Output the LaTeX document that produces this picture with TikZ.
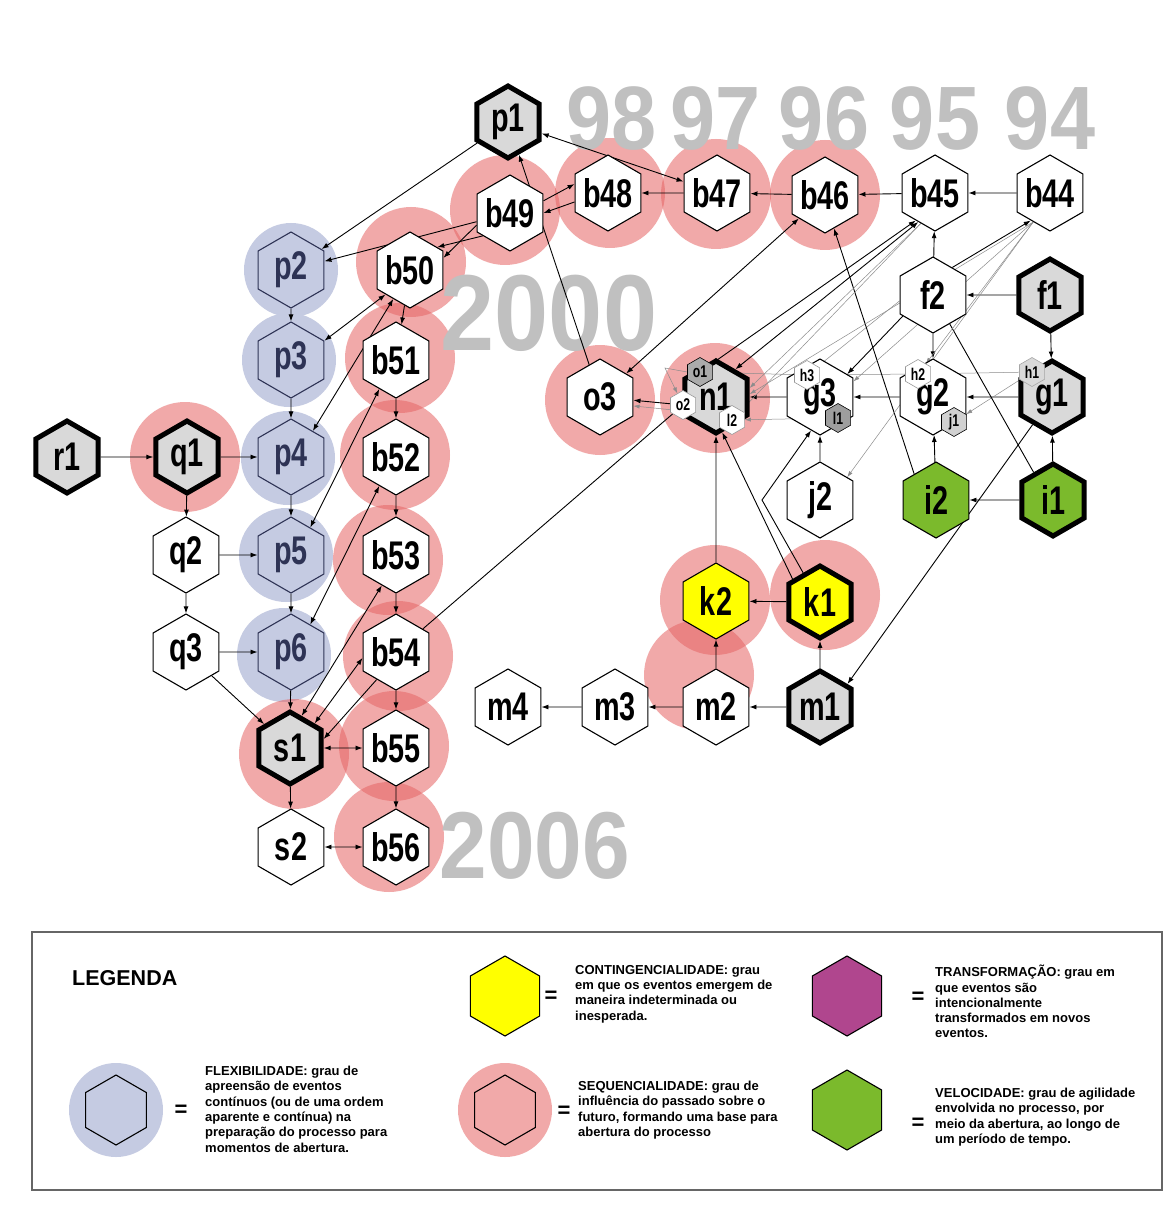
\documentclass[tikz,border=0pt]{standalone}
\usepackage{fontspec}
\setmainfont{Liberation Sans}
\newfontfamily\lblfont[FakeStretch=0.72]{Liberation Sans}
\newfontfamily\yearfont[FakeStretch=0.9]{Liberation Sans}
\usetikzlibrary{shapes.geometric, arrows.meta, calc}
\definecolor{flexblue}{HTML}{C5CBE2}
\definecolor{flexink}{HTML}{2E3355}
\definecolor{seqpink}{HTML}{E66464}
\definecolor{contyellow}{HTML}{FFFF00}
\definecolor{velgreen}{HTML}{7BBA2C}
\definecolor{transpurple}{HTML}{B0468E}
\definecolor{yeargray}{HTML}{C0C0C0}
\definecolor{evgray}{HTML}{D9D9D9}
\pgfdeclarelayer{bg}
\pgfdeclarelayer{edges}
\pgfsetlayers{bg,edges,main}
\tikzset{
  ev/.style={regular polygon, regular polygon sides=6, shape border rotate=30,
             minimum size=76pt, inner sep=-8pt, draw, line width=1.1pt, fill=white,
             font=\lblfont\bfseries\fontsize{40}{40}\selectfont},
  key/.style={ev, line width=5pt, minimum size=72pt, fill=evgray},
  flex/.style={ev, fill=none, draw=flexink, text=flexink},
  small/.style={ev, minimum size=29pt, inner sep=-3pt, line width=0.6pt,
                font=\lblfont\bfseries\fontsize{17}{17}\selectfont},
  link/.style={-{Latex[length=7pt,width=5pt]}, line width=0.9pt},
  both/.style={{Latex[length=7pt,width=5pt]}-{Latex[length=7pt,width=5pt]}, line width=0.9pt},
  plain/.style={line width=0.9pt},
  faint/.style={-{Latex[length=6pt,width=4pt]}, line width=0.5pt, black!45},
  seqcirc/.style={fill=seqpink, fill opacity=0.55},
  flexcirc/.style={fill=flexblue},
  year/.style={yeargray, anchor=base, inner sep=0,
               font=\yearfont\bfseries\fontsize{90}{90}\selectfont},
  legframe/.style={draw=black!60, line width=1.6pt},
  legtext/.style={anchor=north west, inner sep=0, align=left,
                  font=\bfseries\fontsize{13}{15.3}\selectfont},
  legeq/.style={inner sep=0, font=\bfseries\fontsize{22}{22}\selectfont},
  leghex/.style={regular polygon, regular polygon sides=6, shape border rotate=30,
                 minimum size=80pt, inner sep=0, draw, line width=1.1pt},
}
\begin{document}
\begin{tikzpicture}[x=1pt, y=-1pt]
  \useasboundingbox (0,0) rectangle (1170,1214);

  % Background circles and years
  \begin{pgfonlayer}{bg}
    \fill[white] (0,0) rectangle (1170,1214);
    \foreach \x/\y in {291/270, 289/360, 288/458, 286/555, 284/655}
      \fill[flexcirc] (\x,\y) circle (47pt);
    \foreach \x/\y in {185/457, 505/210, 610/193, 716/194, 825/195, 411/262,
                       400/358, 395/455, 388/560, 398/656, 394/746, 389/837,
                       294/754, 600/400, 715/398, 715/600, 825/595, 699/675}
      \fill[seqcirc] (\x,\y) circle (55pt);
    \foreach \yr/\x in {98/612, 97/716, 96/824, 95/935, 94/1050}
      \node[year] (y\yr) at (\x,150) {\yr};
    \node[year, font=\yearfont\bfseries\fontsize{108}{108}\selectfont] (y2000) at (549,350) {2000};
    \node[year, font=\yearfont\bfseries\fontsize{95}{95}\selectfont] (y2006) at (535,878) {2006};
  \end{pgfonlayer}

  % Top row
  \node[key] (p1) at (508,122) {p1};
  \node[ev] (b49) at (510,213) {b49};
  \node[ev] (b48) at (608,193) {b48};
  \node[ev] (b47) at (717,193) {b47};
  \node[ev] (b46) at (825,195) {b46};
  \node[ev] (b45) at (935,193) {b45};
  \node[ev] (b44) at (1050,193) {b44};

  % Columns b and p
  \node[ev] (b50) at (410,270) {b50};
  \foreach \n/\y in {51/360, 52/457, 53/555, 54/652, 55/748, 56/847}
    \node[ev] (b\n) at (396,\y) {b\n};
  \foreach \n/\y in {2/270, 3/360, 4/457, 5/555, 6/652}
    \node[flex] (p\n) at (291,\y) {p\n};

  % Left block
  \node[key] (r1) at (67,457) {r1};
  \node[key] (q1) at (187,457) {q1};
  \node[ev] (q2) at (186,555) {q2};
  \node[ev] (q3) at (186,652) {q3};
  \node[key] (s1) at (290,748) {s1};
  \node[ev] (s2) at (291,847) {s2};

  % Right block
  \node[ev] (f2) at (933,295) {f2};
  \node[key] (f1) at (1050,295) {f1};
  \node[ev] (o3) at (600,397) {o3};
  \node[key] (n1) at (716,397) {n1};
  \node[ev] (g3) at (820,397) {g3};
  \node[ev] (g2) at (933,397) {g2};
  \node[key] (g1) at (1052,397) {g1};
  \node[ev] (j2) at (820,500) {j2};
  \node[ev, fill=velgreen] (i2) at (936,500) {i2};
  \node[key, fill=velgreen] (i1) at (1053,500) {i1};
  \node[ev, fill=contyellow] (k2) at (716,601) {k2};
  \node[key, fill=contyellow] (k1) at (820,602) {k1};
  \node[ev] (m4) at (508,707) {m4};
  \node[ev] (m3) at (615,707) {m3};
  \node[ev] (m2) at (716,707) {m2};
  \node[key] (m1) at (820,707) {m1};

  % Small events
  \node[small, fill=black!33] (o1) at (700,372) {o1};
  \node[small, draw=black!40] (o2) at (683,405) {o2};
  \node[small, draw=black!40] (l2) at (732,420) {l2};
  \node[small, draw=black!40] (h3) at (807,375) {h3};
  \node[small, fill=black!38] (l1) at (838,418) {l1};
  \node[small, draw=black!40] (h2) at (918,374) {h2};
  \node[small, fill=black!18] (j1) at (954,422) {j1};
  \node[small, fill=black!15, draw=black!35] (h1) at (1032,372) {h1};

  \coordinate (obend) at (665,368);
  \coordinate (kbend) at (762,500);

  % Connectors
  \begin{pgfonlayer}{edges}
    \draw[link] (r1) -- (q1);
    \draw[link] (q1) -- (p4);
    \draw[link] (q1) -- (q2);
    \draw[link] (q2) -- (q3);
    \draw[link] (q2) -- (p5);
    \draw[link] (q3) -- (p6);
    \draw[link] (q3) -- (s1);
    \foreach \a/\b in {p2/p3, p3/p4, p4/p5, p5/p6, p6/s1, s1/s2}
      \draw[link] (\a) -- (\b);
    \foreach \a/\b in {50/51, 51/52, 52/53, 53/54, 54/55, 55/56}
      \draw[link] (b\a) -- (b\b);
    \draw[both] (s1) -- (b55);
    \draw[both] (s2) -- (b56);
    \draw[both] (b50.225) -- (p3.30);
    \draw[both] (b50.240) -- (p4.50);
    \draw[both] (b51.240) -- (p5.55);
    \draw[both] (b52.240) -- (p6.55);
    \draw[both] (b53.245) -- (s1.70);
    \draw[both] (b54.190) -- (s1.45);
    \draw[link] (b54.235) -- (s1.15);
    \draw[plain] (b54) -- (o2);

    \draw[link] (p1) -- (p2);
    \draw[link] (b49) -- (p2);
    \draw[link] (b49.200) -- (b50.20);
    \draw[link] (b49.220) -- (b50.40);
    \draw[link] (b49.20) -- (b48.165);
    \draw[link] (b48.195) -- (b49.0);
    \foreach \a/\b in {44/45, 45/46, 46/47, 47/48}
      \draw[link] (b\a) -- (b\b);
    \draw[both] (p1) -- (b47);
    \draw[link] (o3) -- (p1);
    \draw[both] (o3) -- (b46);

    \draw[link] (f1) -- (f2);
    \draw[link] (f1) -- (g1);
    \draw[link] (f2) -- (b45);
    \draw[link] (f2.55) -- (b44.235);
    \draw[link] (f2) -- (g2);
    \draw[link] (f2.215) -- (g3.40);
    \draw[faint] (f2.190) -- (h3);
    \draw[link] (g1) -- (g2);
    \draw[link] (g2) -- (g3);
    \draw[link] (g3) -- (n1);
    \draw[faint] (h1) -- (h2);
    \draw[faint] (h2) -- (h3);
    \draw[faint] (h3) -- (o1);
    \draw[faint] (l1) -- (l2);
    \draw[faint] (h1) -- (j1);
    \draw[faint] (o1.west) -- (obend) -- (o2);
    \draw[faint] (l2) -- (o2);
    \draw[link] (o2) -- (o3);
    \draw[faint] (o2.200) -- (o3.-15);
    \draw[link] (j2) -- (g3);
    \draw[link] (k1.120) -- (kbend) -- (g3.255);
    \draw[link] (k2) -- (n1);
    \draw[link] (k1.140) -- (n1.280);
    \draw[link] (k1) -- (k2);
    \draw[link] (m1) -- (k1);
    \draw[link] (m2) -- (k2);
    \draw[link] (m1) -- (m2);
    \draw[link] (m2) -- (m3);
    \draw[link] (m3) -- (m4);
    \draw[link] (i1) -- (i2);
    \draw[link] (i2) -- (g2);
    \draw[link] (i1) -- (g1);
    \draw[link] (i2.130) -- (b46.285);
    \draw[plain] (i1.125) -- (f2.300);
    \draw[link] (g1.235) -- (m1.40);

    \draw[both] (b45.235) -- (o1);
    \draw[both] (b45.240) -- (n1.55);
    \draw[faint] (b45.245) -- (n1.15);
    \draw[faint] (b45.245) -- (l2);
    \draw[faint] (b44.240) -- (g3.25);
    \draw[faint] (b44.240) -- (j2.40);
    \draw[faint] (b44.240) -- (h2);
    \draw[faint] (b44.240) -- (n1.5);
  \end{pgfonlayer}

  % Legend
  \draw[legframe] (32,932) rectangle (1162,1190);
  \node[anchor=base west, inner sep=0, font=\bfseries\fontsize{21.5}{21.5}\selectfont]
    (legtitle) at (72,985) {LEGENDA};

  \fill[flexcirc] (116,1110) circle (47pt);
  \node[leghex, minimum size=70pt] (lgflex) at (116,1110) {};
  \node[legeq] (eqflex) at (181,1111) {=};
  \node[legtext] (txflex) at (205,1066) {FLEXIBILIDADE: grau de\\apreensão de eventos\\contínuos (ou de uma ordem\\aparente e contínua) na\\preparação do processo para\\momentos de abertura.};

  \node[leghex, fill=contyellow] (lgcont) at (505,996) {};
  \node[legeq] (eqcont) at (551,997) {=};
  \node[legtext] (txcont) at (575,965) {CONTINGENCIALIDADE: grau\\em que os eventos emergem de\\maneira indeterminada ou\\inesperada.};

  \fill[seqcirc] (505,1110) circle (47pt);
  \node[leghex, minimum size=70pt] (lgseq) at (505,1110) {};
  \node[legeq] (eqseq) at (564,1112) {=};
  \node[legtext] (txseq) at (578,1081) {SEQUENCIALIDADE: grau de\\influência do passado sobre o\\futuro, formando uma base para\\abertura do processo};

  \node[leghex, fill=transpurple] (lgtrans) at (847,996) {};
  \node[legeq] (eqtrans) at (918,998) {=};
  \node[legtext] (txtrans) at (935,965) {TRANSFORMAÇÃO: grau em\\que eventos são\\intencionalmente\\transformados em novos\\eventos.};

  \node[leghex, fill=velgreen] (lgvel) at (847,1110) {};
  \node[legeq] (eqvel) at (918,1124) {=};
  \node[legtext] (txvel) at (935,1088) {VELOCIDADE: grau de agilidade\\envolvida no processo, por\\meio da abertura, ao longo de\\um período de tempo.};
\end{tikzpicture}
\end{document}
